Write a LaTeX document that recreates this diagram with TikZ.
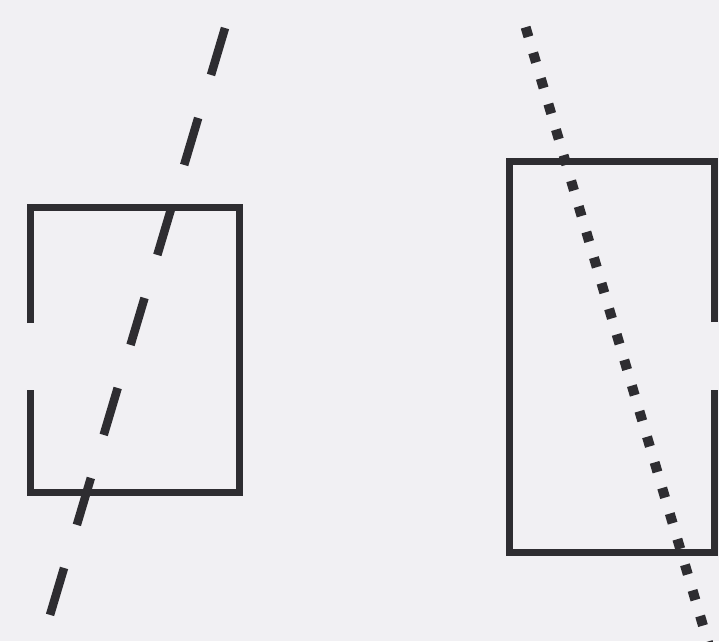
\documentclass[tikz,border=0pt]{standalone}
\usepackage{tikz}
\usetikzlibrary{calc}
\definecolor{paper}{HTML}{F1F0F3}
\definecolor{ink}{HTML}{2E2D31}
\tikzset{
	boxline/.style={
			draw=ink,
			line width=7pt,
			line join=miter
		},
	dashline/.style={
			draw=ink,
			line width=8.5pt,
			dash pattern=on 49pt off 44.9pt
		},
	dotline/.style={
			draw=ink,
			line width=10pt,
			dash pattern=on 10pt off 16.7pt
		}
}

\begin{document}
\begin{tikzpicture}[x=1pt, y=-1pt]
\fill[paper] (0,0) rectangle (719,641);
\useasboundingbox (0,0) rectangle (719,641);

\coordinate (l1) at (30,323);
\coordinate (l2) at (30,207);
\coordinate (l3) at (239,207);
\coordinate (l4) at (239,492);
\coordinate (l5) at (30,492);
\coordinate (l6) at (30,390);

\coordinate (r1) at (714,322);
\coordinate (r2) at (714,161.5);
\coordinate (r3) at (509.5,161.5);
\coordinate (r4) at (509.5,552);
\coordinate (r5) at (714,552);
\coordinate (r6) at (714,390);

\coordinate (dashtop) at (225,28);
\coordinate (dashbot) at (50,615);
\coordinate (dottop) at ($(527,32)+(-1.4,-4.8)$);
\coordinate (dotbot) at (712,656);

\draw[boxline] (l1) -- (l2) -- (l3) -- (l4) -- (l5) -- (l6);
\draw[boxline] (r1) -- (r2) -- (r3) -- (r4) -- (r5) -- (r6);

\draw[dashline] (dashtop) -- (dashbot);
\draw[dotline] (dottop) -- (dotbot);
\end{tikzpicture}
\end{document}
